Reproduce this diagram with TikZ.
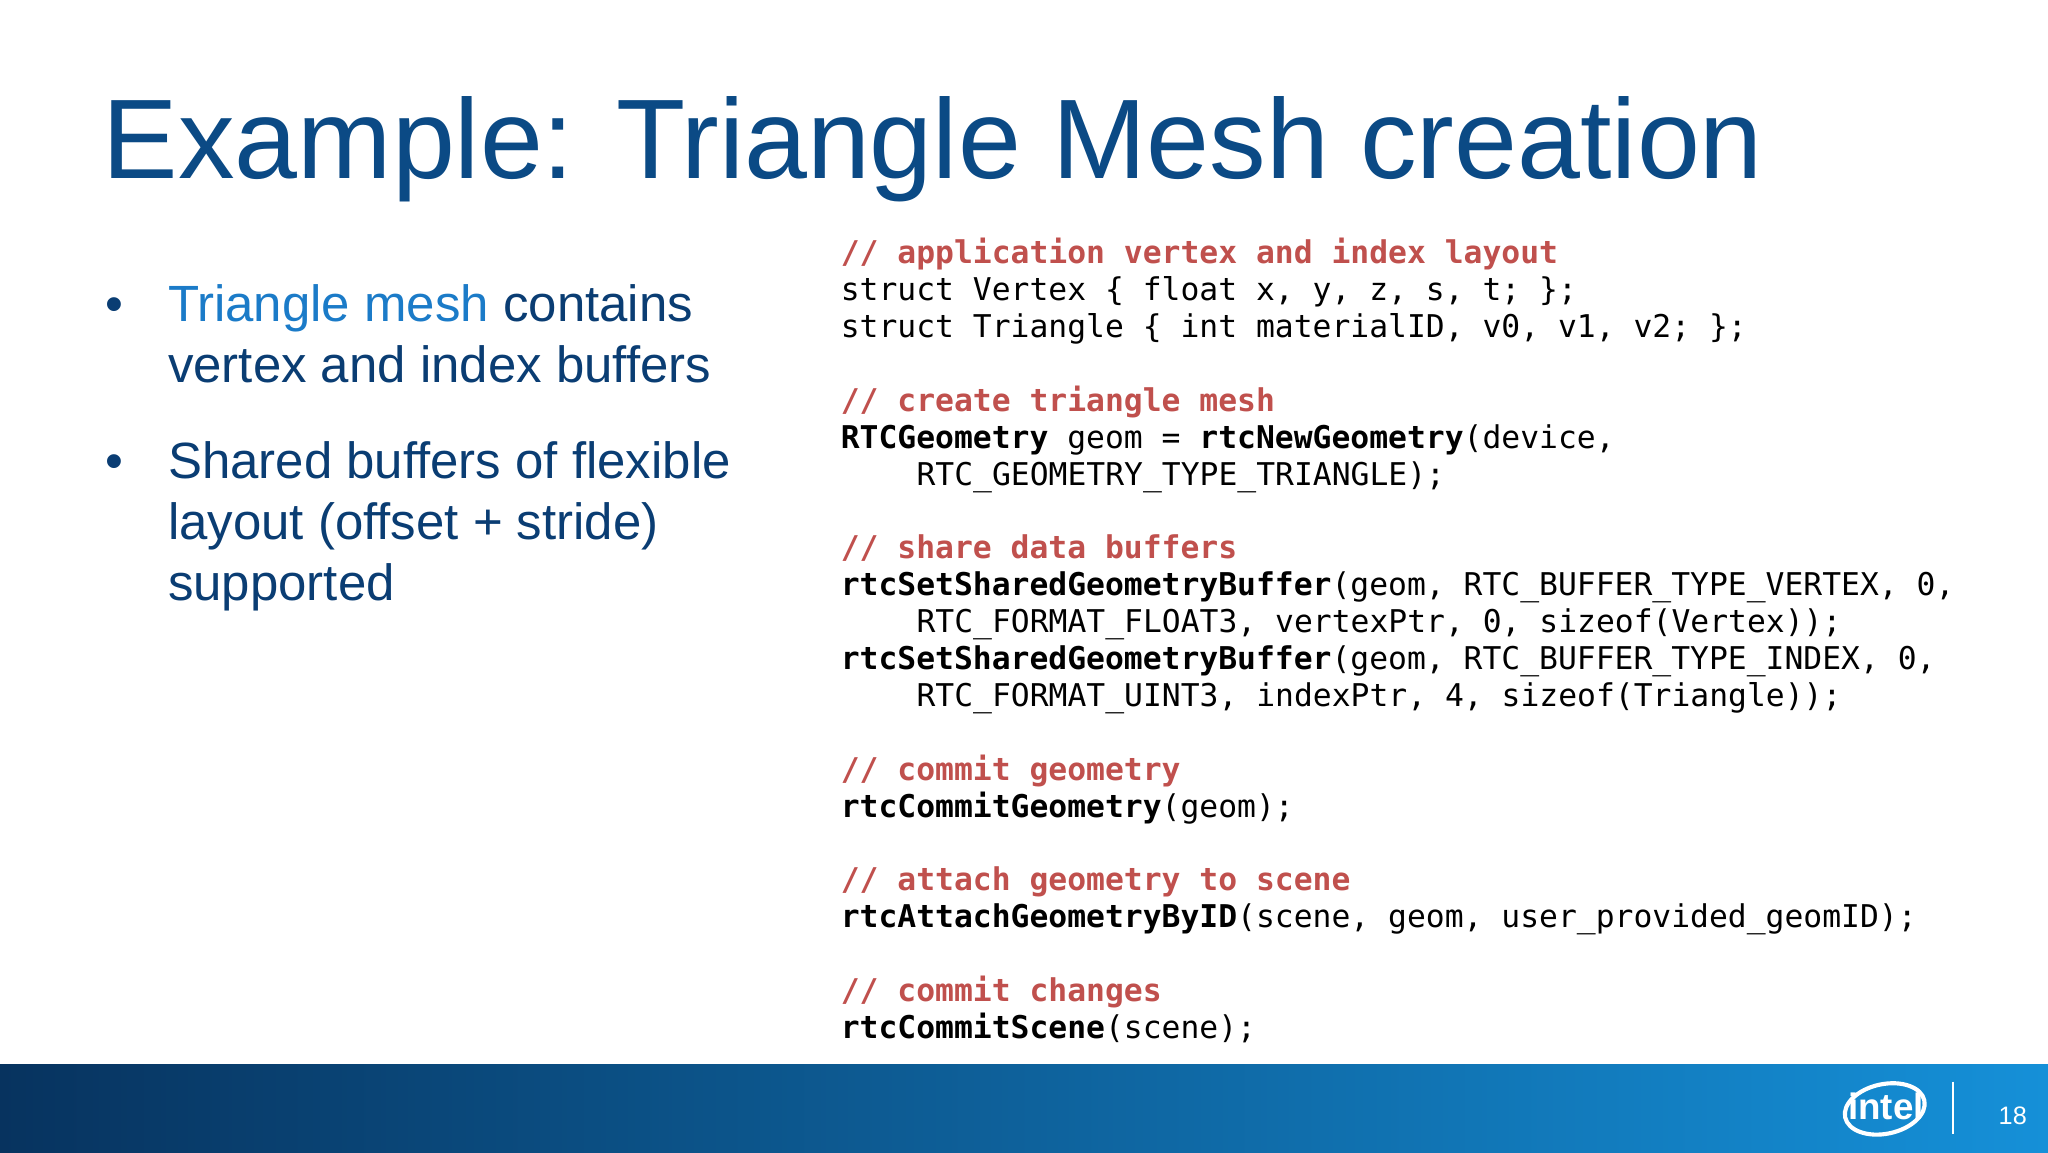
\documentclass[tikz,border=0pt]{standalone}
\usepackage{fontspec}
\setmainfont{Liberation Sans}
\newfontfamily\codefont{DejaVu Sans Mono}
\definecolor{titleblue}{HTML}{0B4A85}
\definecolor{darkblue}{HTML}{0A3D73}
\definecolor{lightblue}{HTML}{1B7BC8}
\definecolor{cmt}{HTML}{C0504D}
\definecolor{barL}{HTML}{07335F}
\definecolor{barR}{HTML}{1590D8}
\tikzset{cl/.style={anchor=base west,inner sep=0,font=\codefont\fontsize{6.83pt}{8pt}\selectfont},
 cmtline/.style={cl,text=cmt,font=\codefont\bfseries\fontsize{6.83pt}{8pt}\selectfont},
 bl/.style={anchor=base west,inner sep=0,font=\fontsize{11.1pt}{13.37pt}\selectfont,text=darkblue}}
\newcommand{\ind}{\hspace*{0.58cm}}
\begin{document}
\begin{tikzpicture}[x=1cm,y=1cm]
\useasboundingbox (0,0) rectangle (15.68,-8.82);
\fill[white] (0,0) rectangle (15.68,-8.82);
\shade[left color=barL,right color=barR] (0,-8.15) rectangle (15.68,-8.82);
% title
\node[anchor=base west,inner sep=0,text=titleblue,font=\fontsize{24.65pt}{28pt}\selectfont] (title) at (0.78,-1.37) {Example: Triangle Mesh creation};
% bullets
\node[bl] (b1) at (0.80,-2.46) {•};
\node[bl] (t1) at (1.28,-2.46) {\textcolor{lightblue}{Triangle mesh} contains};
\node[bl] (t2) at (1.28,-2.93) {vertex and index buffers};
\node[bl] (b2) at (0.80,-3.66) {•};
\node[bl] (t3) at (1.28,-3.66) {Shared buffers of flexible};
\node[bl] (t4) at (1.28,-4.13) {layout (offset + stride)};
\node[bl] (t5) at (1.28,-4.60) {supported};
% code
\def\L#1{-2.02-#1*0.2824}
\node[cmtline] (c0) at (6.43,{\L0}) {// application vertex and index layout};
\node[cl] (c1) at (6.43,{\L1}) {struct Vertex \{ float x, y, z, s, t; \};};
\node[cl] (c2) at (6.43,{\L2}) {struct Triangle \{ int materialID, v0, v1, v2; \};};
\node[cmtline] (c4) at (6.43,{\L4}) {// create triangle mesh};
\node[cl] (c5) at (6.43,{\L5}) {\textbf{RTCGeometry} geom = \textbf{rtcNewGeometry}(device,};
\node[cl] (c6) at (6.43,{\L6}) {\ind RTC\_GEOMETRY\_TYPE\_TRIANGLE);};
\node[cmtline] (c8) at (6.43,{\L8}) {// share data buffers};
\node[cl] (c9) at (6.43,{\L9}) {\textbf{rtcSetSharedGeometryBuffer}(geom, RTC\_BUFFER\_TYPE\_VERTEX, 0,};
\node[cl] (c10) at (6.43,{\L{10}}) {\ind RTC\_FORMAT\_FLOAT3, vertexPtr, 0, sizeof(Vertex));};
\node[cl] (c11) at (6.43,{\L{11}}) {\textbf{rtcSetSharedGeometryBuffer}(geom, RTC\_BUFFER\_TYPE\_INDEX, 0,};
\node[cl] (c12) at (6.43,{\L{12}}) {\ind RTC\_FORMAT\_UINT3, indexPtr, 4, sizeof(Triangle));};
\node[cmtline] (c14) at (6.43,{\L{14}}) {// commit geometry};
\node[cl] (c15) at (6.43,{\L{15}}) {\textbf{rtcCommitGeometry}(geom);};
\node[cmtline] (c17) at (6.43,{\L{17}}) {// attach geometry to scene};
\node[cl] (c18) at (6.43,{\L{18}}) {\textbf{rtcAttachGeometryByID}(scene, geom, user\_provided\_geomID);};
\node[cmtline] (c20) at (6.43,{\L{20}}) {// commit changes};
\node[cl] (c21) at (6.43,{\L{21}}) {\textbf{rtcCommitScene}(scene);};
% footer logo
\draw[white,line width=0.9pt,rotate around={12:(14.43,-8.49)}] (14.43,-8.49) ellipse (0.31 and 0.19);
\node[text=white,inner sep=0,font=\bfseries\fontsize{8pt}{8pt}\selectfont] (intel) at (14.44,-8.47) {intel};
\draw[white,line width=0.5pt] (14.95,-8.28) -- (14.95,-8.68);
\node[anchor=base,text=white,inner sep=0,font=\fontsize{5.5pt}{6pt}\selectfont] (pg) at (15.41,-8.61) {18};
\end{tikzpicture}
\end{document}
